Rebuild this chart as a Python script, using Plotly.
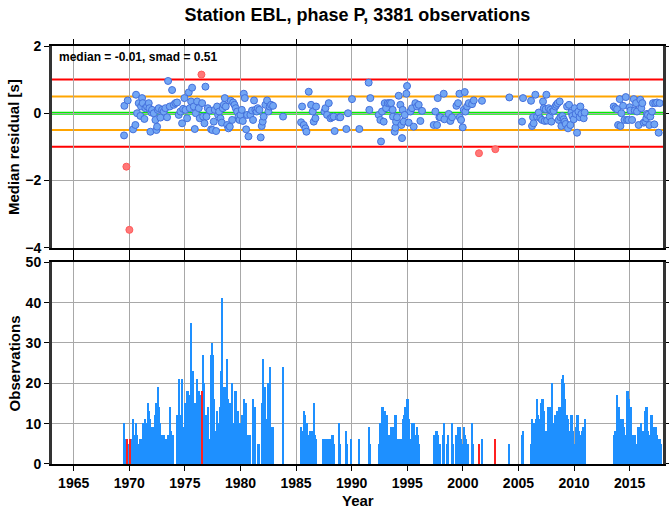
import plotly.graph_objects as go

# ---------------- data ----------------
# Monthly observation counts, in contiguous segments: start month + counts
seg_a_start = "1969-07"
seg_a_counts = [10, 6, 6, 6, 5, 5, 6, 0, 0, 6, 11, 7, 6, 10, 7, 5, 5, 6, 6, 6,
                10, 9, 10, 11, 10, 9, 15, 13, 11, 9, 6, 9, 9, 12, 15, 10, 6, 19, 14, 10,
                7, 7, 6, 7, 6, 6, 5, 7, 7, 0, 14, 8, 7, 7, 0, 0, 0, 12, 12, 21,
                9, 12, 21, 9, 9, 9, 15, 15, 18, 18, 17, 17, 35, 23, 23, 14, 15, 15, 15, 21,
                18, 18, 17, 17, 18, 27, 20, 12, 12, 6, 12, 14, 6, 6, 27, 30, 27, 16, 8, 8,
                13, 10, 10, 10, 14, 23, 41, 19, 19, 19, 19, 26, 16, 15, 15, 13, 13, 20, 10, 10,
                18, 18, 6, 13, 10, 10, 8, 12, 12, 16, 8, 8, 15, 7, 7, 7, 7, 0, 0, 16,
                14, 14, 0, 0, 0, 5, 5, 0, 0, 15, 26, 19, 19, 11, 11, 20, 17, 24, 24, 9,
                9, 9]
seg_b_start = "1983-11"
seg_b_counts = [24]
seg_c_start = "1985-06"
seg_c_counts = [9, 8, 0, 13, 12, 0, 10, 0, 0, 7, 8, 6, 8, 0, 15, 7, 6, 0, 0, 0,
                0, 0, 0, 0, 6, 6, 6, 6, 6, 6, 6, 6, 6, 7, 0, 7, 5, 0, 0, 0,
                0, 10, 5, 0, 0, 0, 0, 0, 0, 8, 5, 0, 0, 0, 6, 0, 0, 0, 0, 0,
                0, 0, 0, 6, 0, 0, 0, 0, 0, 0, 0, 0, 0, 9, 5]
seg_d_start = "1992-06"
seg_d_counts = [5, 10, 7, 14, 14, 13, 10, 13, 10, 12, 7, 0, 7, 9, 9, 9, 9, 12, 12, 6,
                6, 6, 6, 6, 6, 6, 11, 12, 14, 13, 16, 16, 11, 6, 0, 6, 10, 9, 10, 7,
                6, 9, 7, 5]
seg_e_start = "1997-05"
seg_e_counts = [6, 7, 6, 8, 8, 7, 5, 5, 0, 0, 7, 10, 0, 0, 0, 5, 7, 0, 0, 0,
                10, 5, 0, 0, 7, 0, 9, 5, 9, 0, 6, 5, 0, 9, 7, 6, 0, 5, 0, 0,
                0, 10, 7, 5]
seg_f_start = "2001-06"
seg_f_counts = [5, 0, 0, 6]
seg_g_start = "2002-11"
seg_g_counts = [6]
seg_h_start = "2004-02"
seg_h_counts = [5]
seg_i_start = "2005-04"
seg_i_counts = [7, 8]
seg_j_start = "2006-02"
seg_j_counts = [5, 11, 8, 10, 10, 5, 11, 16, 12, 11, 11, 15, 16, 16, 13, 8, 6, 8, 9, 14,
                9, 14, 14, 20, 10, 8, 12, 11, 13, 10, 14, 12, 14, 10, 21, 22, 20, 16, 12, 12,
                11, 8, 7, 12, 12, 5, 8, 5, 5, 9, 12, 12, 8, 7, 7, 8, 9, 9, 11]
seg_k_start = "2013-08"
seg_k_counts = [7, 8, 8, 17, 14, 14, 9, 11, 11, 11, 9, 7, 7, 7, 18, 18, 16, 12, 14, 7,
                7, 7, 7, 5, 5, 5, 9, 9, 5, 10, 8, 8, 6, 13, 14, 14, 8, 5, 5, 7,
                12, 12, 9, 9, 9, 9, 7, 6, 6, 6, 5]

# months whose median residual is an outlier (drawn red)
red_months = ["1969-10", "1970-01", "1976-07", "2001-06", "2002-11"]

# Monthly median residuals [s]
res_year = [1969.56, 1969.53, 1969.74, 1969.86, 1970.01, 1970.34, 1970.55, 1970.61, 1970.70, 1970.85,
            1971.00, 1971.06, 1971.15, 1971.21, 1971.36, 1971.45, 1971.60, 1971.75, 1971.81, 1971.90,
            1971.99, 1972.05, 1972.20, 1972.35, 1972.44, 1972.50, 1972.56, 1972.65, 1972.80, 1972.95,
            1973.10, 1973.25, 1973.40, 1973.49, 1973.64, 1973.85, 1974.00, 1974.15, 1974.30, 1974.45,
            1974.60, 1974.75, 1974.84, 1974.96, 1975.05, 1975.20, 1975.35, 1975.44, 1975.56, 1975.65,
            1975.80, 1975.89, 1975.98, 1976.10, 1976.25, 1976.34, 1976.49, 1976.55, 1976.64, 1976.76,
            1976.85, 1976.94, 1977.06, 1977.24, 1977.36, 1977.48, 1977.60, 1977.69, 1977.81, 1977.90,
            1977.99, 1978.08, 1978.20, 1978.32, 1978.41, 1978.50, 1978.59, 1978.68, 1978.80, 1978.92,
            1979.04, 1979.13, 1979.25, 1979.34, 1979.46, 1979.58, 1979.70, 1979.82, 1979.91, 1980.00,
            1980.12, 1980.21, 1980.30, 1980.39, 1980.51, 1980.60, 1980.72, 1980.89, 1981.04, 1981.13,
            1981.22, 1981.34, 1981.46, 1981.55, 1981.70, 1981.82, 1981.91, 1982.00, 1982.09, 1982.24,
            1982.39, 1982.51, 1982.63, 1982.75, 1982.93, 1983.83, 1985.45, 1985.54, 1985.69, 1985.84,
            1985.93, 1986.14, 1986.35, 1986.50, 1986.59, 1986.74, 1986.80, 1987.55, 1987.64, 1987.79,
            1987.94, 1988.09, 1988.24, 1988.38, 1988.47, 1988.86, 1988.98, 1989.52, 1989.67, 1990.03,
            1990.69, 1991.53, 1991.59, 1991.68, 1992.43, 1992.58, 1992.64, 1992.73, 1992.88, 1992.97,
            1993.09, 1993.24, 1993.39, 1993.54, 1993.69, 1993.72, 1993.87, 1993.93, 1993.99, 1994.08,
            1994.23, 1994.38, 1994.47, 1994.53, 1994.59, 1994.68, 1994.77, 1994.92, 1994.98, 1995.13,
            1995.28, 1995.43, 1995.58, 1995.73, 1995.88, 1996.03, 1996.18, 1996.33, 1997.38, 1997.53,
            1997.68, 1997.74, 1997.89, 1997.98, 1998.28, 1998.34, 1998.73, 1998.88, 1999.03, 1999.42,
            1999.57, 1999.69, 1999.72, 1999.84, 1999.99, 2000.08, 2000.17, 2000.23, 2000.38, 2000.53,
            2000.83, 2000.98, 2001.45, 2001.72, 2002.92, 2004.18, 2005.32, 2005.41, 2006.13, 2006.22,
            2006.31, 2006.37, 2006.52, 2006.67, 2006.82, 2006.97, 2007.12, 2007.21, 2007.27, 2007.36,
            2007.45, 2007.51, 2007.57, 2007.72, 2007.81, 2007.87, 2007.96, 2008.05, 2008.17, 2008.32,
            2008.41, 2008.53, 2008.62, 2008.71, 2008.77, 2008.86, 2008.95, 2009.07, 2009.16, 2009.25,
            2009.37, 2009.46, 2009.55, 2009.67, 2009.76, 2009.85, 2009.97, 2010.06, 2010.15, 2010.27,
            2010.39, 2010.51, 2010.57, 2010.66, 2010.87, 2010.96, 2013.57, 2013.72, 2013.87, 2013.96,
            2014.11, 2014.17, 2014.26, 2014.41, 2014.53, 2014.65, 2014.77, 2014.89, 2015.01, 2015.07,
            2015.22, 2015.37, 2015.46, 2015.58, 2015.66, 2015.81, 2015.96, 2016.05, 2016.14, 2016.26,
            2016.41, 2016.50, 2016.56, 2016.65, 2016.77, 2016.86, 2017.01, 2017.10, 2017.22, 2017.31,
            2017.46, 2017.61, 2017.70]
res_value = [0.22, -0.66, -1.59, 0.38, -3.47, -0.48, -0.35, 0.55, 0.00, 0.30,
             -0.08, 0.20, 0.45, 0.30, -0.17, 0.15, 0.20, 0.30, 0.15, -0.55,
             0.02, 0.10, 0.00, -0.20, -0.50, -0.40, 0.10, 0.15, -0.13, 0.10,
             0.05, 0.15, -0.12, 0.96, 0.20, 0.69, 0.25, 0.30, 0.32, -0.05,
             0.05, -0.30, 0.13, 0.45, 0.10, -0.15, 0.62, 0.15, 0.35, 0.76,
             0.20, -0.47, 0.00, 0.35, 0.15, -0.15, 1.15, 0.30, -0.10, -0.30,
             0.79, -0.10, 0.15, 0.08, -0.48, -0.50, -0.25, 0.10, -0.53, 0.20,
             -0.05, 0.05, -0.15, -0.28, 0.15, 0.25, 0.45, 0.20, -0.35, -0.45,
             -0.40, 0.37, -0.20, 0.32, 0.25, 0.15, 0.05, -0.10, -0.20, -0.05,
             0.10, -0.23, 0.58, 0.45, -0.48, -0.05, -0.69, -0.05, 0.08, -0.20,
             0.38, 0.10, 0.05, 0.15, 0.10, -0.72, -0.38, -0.25, -0.10, 0.25,
             0.38, 0.05, 0.20, 0.25, 0.22, -0.10, -0.27, 0.20, -0.35, -0.45,
             -0.55, 0.64, 0.25, 0.05, -0.25, -0.15, 0.20, 0.05, 0.15, -0.05,
             0.30, -0.15, -0.12, -0.10, -0.53, -0.12, -0.12, -0.47, 0.00, 0.42,
             -0.47, 0.91, 0.10, 0.45, -0.05, -0.20, -0.84, 0.05, -0.25, 0.30,
             0.15, 0.30, 0.30, 0.30, 0.10, -0.10, -0.55, -0.43, -0.25, -0.12,
             0.52, 0.25, -0.35, -0.74, 0.10, -0.25, -0.05, 0.58, 0.81, -0.28,
             0.05, 0.15, -0.40, 0.30, 0.20, 0.25, -0.23, 0.07, -0.35, 0.05,
             -0.35, 0.45, -0.12, -0.12, 0.58, -0.18, -0.02, -0.23, -0.12, 0.22,
             0.30, 0.58, -0.12, -0.20, -0.42, 0.10, 0.63, 0.05, 0.20, 0.30,
             0.27, 0.38, -1.19, 0.37, -1.07, 0.47, -0.25, 0.45, 0.37, -0.38,
             -0.12, -0.30, 0.55, -0.10, 0.02, -0.15, -0.20, 0.35, 0.15, -0.23,
             0.12, 0.55, -0.22, 0.15, -0.10, 0.10, -0.25, 0.05, 0.07, 0.20,
             0.25, 0.30, -0.20, 0.35, -0.12, -0.38, -0.08, -0.18, -0.25, -0.32,
             0.20, -0.45, 0.25, -0.35, 0.02, -0.08, -0.18, 0.15, -0.02, -0.58,
             0.05, -0.12, 0.20, -0.02, -0.15, 0.02, 0.20, 0.15, 0.12, -0.35,
             0.42, -0.38, 0.00, 0.22, -0.20, 0.48, -0.20, -0.20, 0.18, 0.08,
             -0.20, 0.42, 0.08, 0.30, 0.05, -0.35, 0.40, 0.15, 0.30, -0.28,
             -0.25, -0.15, -0.02, -0.05, -0.35, -0.10, 0.05, 0.30, -0.33, 0.30,
             0.32, -0.58, 0.30]

ref_levels = [1.0, 0.5, 0.0, -0.5, -1.0]
ref_colors = ["#ff0000", "#ffa500", "#00ee00", "#ffa500", "#ff0000"]
ref_widths = [2, 2, 3, 2, 2]

x_ticks = [1965, 1970, 1975, 1980, 1985, 1990, 1995, 2000, 2005, 2010, 2015]
x_range = [1963.05, 2018.0]
title_text = "Station EBL, phase P, 3381 observations"
stats_text = "median = -0.01, smad = 0.51"
outlier_limit = 1.0
bar_width_years = 0.11   # a little wider than one month so every bar is at least one pixel

# ---------------- build monthly bars ----------------
segments = [(seg_a_start, seg_a_counts), (seg_b_start, seg_b_counts), (seg_c_start, seg_c_counts),
            (seg_d_start, seg_d_counts), (seg_e_start, seg_e_counts), (seg_f_start, seg_f_counts),
            (seg_g_start, seg_g_counts), (seg_h_start, seg_h_counts), (seg_i_start, seg_i_counts),
            (seg_j_start, seg_j_counts), (seg_k_start, seg_k_counts)]

bx, by, rx, ry = [], [], [], []
for start, counts in segments:
    yy, mm = map(int, start.split("-"))
    base = yy * 12 + (mm - 1)
    for i, c in enumerate(counts):
        if c <= 0:
            continue
        idx = base + i
        key = f"{idx // 12}-{idx % 12 + 1:02d}"
        xc = idx // 12 + (idx % 12 + 0.5) / 12.0
        if key in red_months:
            rx.append(xc); ry.append(c)
        else:
            bx.append(xc); by.append(c)

ok_x = [x for x, v in zip(res_year, res_value) if abs(v) <= outlier_limit]
ok_y = [v for v in res_value if abs(v) <= outlier_limit]
out_x = [x for x, v in zip(res_year, res_value) if abs(v) > outlier_limit]
out_y = [v for v in res_value if abs(v) > outlier_limit]

FONT = "Liberation Sans, Arial, Helvetica, sans-serif"

fig = go.Figure()
fig.add_trace(go.Bar(x=bx, y=by, width=bar_width_years, marker=dict(color="#1e90ff", line=dict(width=0)),
                     xaxis="x", yaxis="y", showlegend=False))
fig.add_trace(go.Bar(x=rx, y=ry, width=bar_width_years, marker=dict(color="#ff2020", line=dict(width=0)),
                     xaxis="x", yaxis="y", showlegend=False))
fig.add_trace(go.Scatter(x=ok_x, y=ok_y, mode="markers", xaxis="x2", yaxis="y2", showlegend=False,
                         marker=dict(size=7, color="#72a6f4", line=dict(color="#4470dc", width=1))))
fig.add_trace(go.Scatter(x=out_x, y=out_y, mode="markers", xaxis="x2", yaxis="y2", showlegend=False,
                         marker=dict(size=7, color="#ff7878", line=dict(color="#ff5a5a", width=1))))

shapes = []
for lv, col, w in zip(ref_levels, ref_colors, ref_widths):
    shapes.append(dict(type="line", xref="x2", x0=x_range[0], x1=x_range[1], yref="y2", y0=lv, y1=lv,
                       line=dict(color=col, width=w), layer="below"))

tickfont = dict(family=FONT, size=14, color="black", weight="bold")
common_x = dict(range=x_range, autorange=False, tickmode="array", tickvals=x_ticks, showgrid=True,
                gridcolor="#a8a8a8", gridwidth=1, ticks="outside", ticklen=5, tickcolor="black",
                showline=True, linecolor="black", linewidth=2, mirror="ticks", zeroline=False,
                tickfont=tickfont, automargin=False)
common_y = dict(showgrid=True, gridcolor="#a8a8a8", gridwidth=1, ticks="outside", ticklen=5,
                tickcolor="black", showline=True, linecolor="#333333", linewidth=3, mirror="ticks",
                zeroline=False, tickfont=tickfont, automargin=False, autorange=False)

fig.update_layout(
    width=669, height=511,
    autosize=False,
    margin=dict(l=52, r=6, t=46, b=47, autoexpand=False),
    paper_bgcolor="white", plot_bgcolor="white",
    bargap=0, barmode="overlay",
    font=dict(family=FONT, color="black"),
    title=dict(text=title_text, x=0.5342, xanchor="center", y=0.972, yanchor="middle",
               font=dict(family=FONT, size=18, color="black", weight="bold")),
    xaxis=dict(**common_x, anchor="y", domain=[0, 1]),
    xaxis2=dict(**common_x, anchor="y2", domain=[0, 1], showticklabels=False),
    yaxis=dict(**common_y, range=[0, 50], dtick=10, domain=[0, 0.4825], anchor="x"),
    yaxis2=dict(**common_y, range=[-4, 2], dtick=2, domain=[0.5175, 1], anchor="x2"),
    shapes=shapes,
    annotations=[
        dict(text=stats_text, xref="paper", yref="paper", x=0.008, y=0.995,
             xanchor="left", yanchor="top", showarrow=False,
             font=dict(family=FONT, size=12, color="black", weight="bold")),
        dict(text="Median residual [s]", xref="paper", yref="paper", x=-0.062, y=0.7585,
             xanchor="center", yanchor="middle", textangle=-90, showarrow=False,
             font=dict(family=FONT, size=15, color="black", weight="bold")),
        dict(text="Observations", xref="paper", yref="paper", x=-0.062, y=0.241,
             xanchor="center", yanchor="middle", textangle=-90, showarrow=False,
             font=dict(family=FONT, size=15, color="black", weight="bold")),
        dict(text="Year", xref="paper", yref="paper", x=0.5, y=-0.087,
             xanchor="center", yanchor="middle", showarrow=False,
             font=dict(family=FONT, size=15, color="black", weight="bold")),
    ],
)

fig.write_html("out.html", config={"displayModeBar": False})

# remove the default page margin so the figure sits at the window's top-left corner
with open("out.html", "r", encoding="utf-8") as fh:
    page = fh.read()
page = page.replace("<head>", "<head><style>html,body{margin:0;padding:0;overflow:hidden;}</style>", 1)
with open("out.html", "w", encoding="utf-8") as fh:
    fh.write(page)
